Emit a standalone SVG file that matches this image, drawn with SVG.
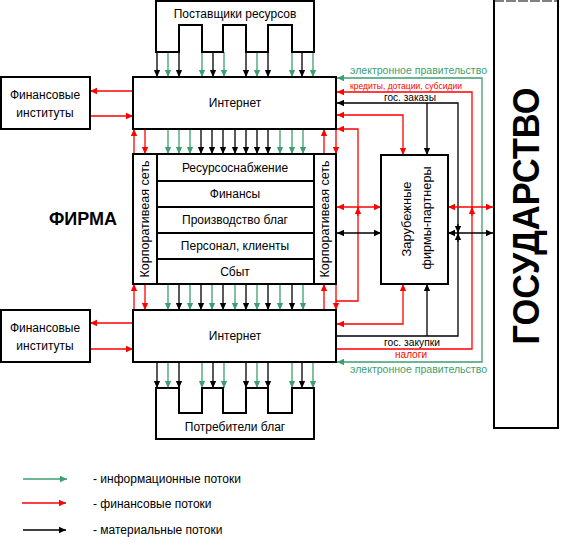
<svg xmlns="http://www.w3.org/2000/svg" width="562" height="545" viewBox="0 0 562 545">
<style>
.box{fill:#fff;stroke:#000;stroke-width:2}
.t{font-family:"Liberation Sans",Arial,sans-serif;font-size:12px;fill:#000}
.ts{font-family:"Liberation Sans",Arial,sans-serif;font-size:10px}
path.c{fill:none;stroke-width:1.3}
.g{stroke:#3c9f70;marker-end:url(#mg)}
.r{stroke:#ff0000;marker-end:url(#mr)}
.k{stroke:#000;marker-end:url(#mk)}
.rn{stroke:#ff0000}
.kn{stroke:#000}
.rb{stroke:#ff0000;marker-start:url(#mr);marker-end:url(#mr)}
.kb{stroke:#000;marker-start:url(#mk);marker-end:url(#mk)}
.gb{stroke:#3c9f70;marker-start:url(#mg);marker-end:url(#mg)}
</style>
<defs>
<marker id="mg" viewBox="0 0 10 10" refX="10" refY="5" markerWidth="7" markerHeight="8" markerUnits="userSpaceOnUse" orient="auto-start-reverse"><path d="M0,0.5 L10,5 L0,9.5 z" fill="#3c9f70"/></marker>
<marker id="mr" viewBox="0 0 10 10" refX="10" refY="5" markerWidth="7" markerHeight="8" markerUnits="userSpaceOnUse" orient="auto-start-reverse"><path d="M0,0.5 L10,5 L0,9.5 z" fill="#ff0000"/></marker>
<marker id="mk" viewBox="0 0 10 10" refX="10" refY="5" markerWidth="7" markerHeight="8" markerUnits="userSpaceOnUse" orient="auto-start-reverse"><path d="M0,0.5 L10,5 L0,9.5 z" fill="#000"/></marker>
</defs>
<rect width="562" height="545" fill="#fff"/>

<g id="connectors">
<!-- suppliers to internet -->
<path class="c k" d="M157,52V77"/><path class="c g" d="M168,52V77"/><path class="c k" d="M179,52V77"/>
<path class="c g" d="M202,52V77"/><path class="c k" d="M213,52V77"/><path class="c g" d="M224,52V77"/>
<path class="c k" d="M246,52V77"/><path class="c g" d="M257,52V77"/><path class="c k" d="M268,52V77"/>
<path class="c g" d="M292,52V77"/><path class="c k" d="M302,52V77"/><path class="c g" d="M313,52V77"/>
<!-- internet to consumers -->
<path class="c k" d="M157,362V388"/><path class="c g" d="M168,362V388"/><path class="c k" d="M179,362V388"/>
<path class="c g" d="M202,362V388"/><path class="c k" d="M213,362V388"/><path class="c g" d="M224,362V388"/>
<path class="c k" d="M246,362V388"/><path class="c g" d="M257,362V388"/><path class="c k" d="M268,362V388"/>
<path class="c g" d="M292,362V388"/><path class="c k" d="M302,362V388"/><path class="c g" d="M313,362V388"/>
<!-- upper zone -->
<path class="c r" d="M134,154V129"/><path class="c r" d="M145,129V154"/>
<path class="c g" d="M168,129V154"/><path class="c g" d="M179,129V154"/><path class="c g" d="M190,129V154"/>
<path class="c k" d="M201,129V154"/><path class="c k" d="M212,129V154"/><path class="c k" d="M223,129V154"/>
<path class="c k" d="M235,129V154"/><path class="c k" d="M246,129V154"/><path class="c k" d="M257,129V154"/>
<path class="c k" d="M268,129V154"/>
<path class="c g" d="M280,129V154"/><path class="c g" d="M292,129V154"/><path class="c g" d="M303,129V154"/>
<path class="c r" d="M324,154V129"/><path class="c r" d="M336,129V154"/>
<!-- lower zone -->
<path class="c r" d="M134,310V284"/><path class="c r" d="M145,284V310"/>
<path class="c g" d="M168,284V310"/><path class="c k" d="M179,284V310"/><path class="c g" d="M190,284V310"/>
<path class="c k" d="M201,284V310"/><path class="c g" d="M212,284V310"/><path class="c k" d="M223,284V310"/>
<path class="c g" d="M235,284V310"/><path class="c k" d="M246,284V310"/><path class="c g" d="M257,284V310"/>
<path class="c k" d="M268,284V310"/><path class="c g" d="M280,284V310"/><path class="c k" d="M292,284V310"/>
<path class="c g" d="M303,284V310"/>
<path class="c r" d="M324,310V284"/><path class="c r" d="M336,284V310"/>
<!-- financial institutions -->
<path class="c r" d="M133,91H90"/><path class="c r" d="M90,116H133"/>
<path class="c r" d="M133,323H90"/><path class="c r" d="M90,349H133"/>
<!-- government lines -->
<path class="c gb" d="M337,78H482V362H337"/>
<path class="c r" d="M336,349H472V92H337"/>
<path class="c k" d="M336,336H458V103H337"/>
<path class="c k" d="M427,103V155"/>
<path class="c k" d="M427,336V284"/>
<path class="c rb" d="M337,115H403V155"/>
<path class="c rb" d="M403,284V324H337"/>
<path class="c r" d="M336,301H358V129H337"/>
<path class="c r" d="M358,216V207"/><path class="c r" d="M472,216V207"/>
<path class="c rb" d="M337,207H381"/><path class="c rb" d="M448,207H493"/>
<path class="c kb" d="M337,233H381"/><path class="c kb" d="M448,233H493"/>
<path class="c k" d="M458,224V233"/><path class="c k" d="M458,242V233"/>
<!-- legend -->
<path class="c g" d="M23,479H67"/>
<path class="c r" d="M22,503H66"/>
<path class="c k" d="M23,530H66"/>
</g>

<g id="suppliers">
<path class="box" d="M156,1H314V52H292V25H268V52H246V25H223V52H202V25H179V52H156Z"/>
<text class="t" x="235" y="18" text-anchor="middle">Поставщики ресурсов</text>
</g>

<g id="consumers">
<path class="box" d="M156,388H179V413H202V388H223V413H246V388H268V413H292V388H314V439H156Z"/>
<text class="t" x="235" y="431" text-anchor="middle">Потребители благ</text>
</g>

<g id="internet-top">
<rect class="box" x="133" y="77" width="203" height="52"/>
<text class="t" x="235" y="107" text-anchor="middle">Интернет</text>
</g>

<g id="internet-bottom">
<rect class="box" x="133" y="310" width="203" height="52"/>
<text class="t" x="235" y="340" text-anchor="middle">Интернет</text>
</g>

<g id="fin-top">
<rect class="box" x="1" y="77" width="89" height="52"/>
<text class="t" x="45" y="99" text-anchor="middle">Финансовые</text>
<text class="t" x="45" y="117" text-anchor="middle">институты</text>
</g>

<g id="fin-bottom">
<rect class="box" x="1" y="310" width="89" height="52"/>
<text class="t" x="45" y="332" text-anchor="middle">Финансовые</text>
<text class="t" x="45" y="350" text-anchor="middle">институты</text>
</g>

<g id="firm">
<rect class="box" x="133" y="154" width="203" height="130"/>
<path d="M157,154V284M314,154V284M157,181H314M157,207H314M157,233H314M157,259H314" stroke="#000" stroke-width="2" fill="none"/>
<text class="t" x="235" y="172" text-anchor="middle">Ресурсоснабжение</text>
<text class="t" x="235" y="198" text-anchor="middle">Финансы</text>
<text class="t" x="235" y="224" text-anchor="middle">Производство благ</text>
<text class="t" x="235" y="250" text-anchor="middle">Персонал, клиенты</text>
<text class="t" x="235" y="276" text-anchor="middle">Сбыт</text>
<text class="t" transform="translate(149,219) rotate(-90)" text-anchor="middle" style="font-size:12.5px">Корпоративеая сеть</text>
<text class="t" transform="translate(329,219) rotate(-90)" text-anchor="middle" style="font-size:12.5px">Корпоративеая сеть</text>
</g>

<g id="firm-label">
<text x="83" y="225" text-anchor="middle" style="font-family:'Liberation Sans',Arial,sans-serif;font-size:18px;font-weight:bold">ФИРМА</text>
</g>

<g id="foreign">
<rect class="box" x="381" y="155" width="67" height="129"/>
<text class="t" transform="translate(411,219) rotate(-90)" text-anchor="middle" textLength="75" lengthAdjust="spacingAndGlyphs">Зарубежные</text>
<text class="t" transform="translate(431,218) rotate(-90)" text-anchor="middle" textLength="103" lengthAdjust="spacingAndGlyphs">фирмы-партнеры</text>
</g>

<g id="state">
<path d="M494,0V428H558V0" fill="#fff" stroke="#000" stroke-width="2"/>
<path d="M494,1H558" stroke="#000" stroke-width="1" stroke-dasharray="10,2"/>
<text transform="translate(539,216) rotate(-90)" text-anchor="middle" textLength="257" lengthAdjust="spacingAndGlyphs" style="font-family:'Liberation Sans',Arial,sans-serif;font-size:36px;font-weight:bold">ГОСУДАРСТВО</text>
</g>

<g id="labels">
<text class="ts" x="350" y="74" fill="#3c9f70" textLength="137" lengthAdjust="spacingAndGlyphs">электронное правительство</text>
<text class="ts" x="350" y="89" fill="#ff0000" textLength="112" lengthAdjust="spacingAndGlyphs" style="font-size:9.5px">кредиты, дотации, субсидии</text>
<text class="ts" x="384" y="101" fill="#000" textLength="52" lengthAdjust="spacingAndGlyphs">гос. заказы</text>
<text class="ts" x="384" y="346" fill="#000" textLength="56" lengthAdjust="spacingAndGlyphs">гос. закупки</text>
<text class="ts" x="395" y="358" fill="#ff0000" textLength="32" lengthAdjust="spacingAndGlyphs">налоги</text>
<text class="ts" x="350" y="373" fill="#3c9f70" textLength="137" lengthAdjust="spacingAndGlyphs">электронное правительство</text>
</g>

<g id="legend">
<text class="t" x="93" y="483">- информационные потоки</text>
<text class="t" x="93" y="508">- финансовые потоки</text>
<text class="t" x="93" y="534">- материальные потоки</text>
</g>
</svg>
